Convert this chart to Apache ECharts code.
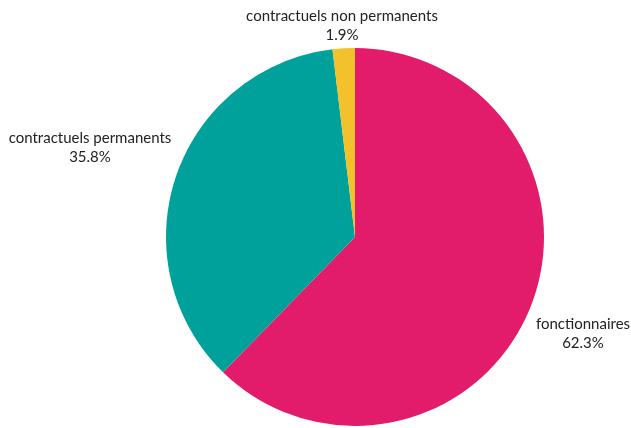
<!DOCTYPE html>
<html><head><meta charset="utf-8">
<script src="https://cdn.jsdelivr.net/npm/echarts@6/dist/echarts.min.js"></script>
<style>html,body{margin:0;padding:0;background:#fff}#c{width:631px;height:428px}</style>
</head><body><div id="c"></div>
<script>
const categories = ["fonctionnaires", "contractuels permanents", "contractuels non permanents"];
const values = [62.3, 35.8, 1.9];
const colors = ["#E21C6A", "#00A19A", "#F3C12B"];
// label block centres (layout only)
const labelCenters = [[583, 334], [90, 148], [342, 26]];

const chart = echarts.init(document.getElementById('c'));
chart.setOption({
  animation: false,
  series: [{
    type: 'pie',
    center: [355, 237],
    radius: 189,
    startAngle: 90,
    clockwise: true,
    data: categories.map((n, i) => ({name: n, value: values[i], itemStyle: {color: colors[i]}})),
    label: {
      show: true,
      position: 'outside',
      formatter: p => p.name + '\n' + p.value.toFixed(1) + '%',
      fontFamily: 'Lato',
      fontSize: 15,
      color: '#222',
      lineHeight: 19,
      align: 'center',
      overflow: 'none'
    },
    labelLine: {show: false, length: 8, length2: 0},
    labelLayout: p => ({
      x: labelCenters[p.dataIndex][0],
      y: labelCenters[p.dataIndex][1],
      align: 'center',
      verticalAlign: 'middle'
    }),
    itemStyle: {borderWidth: 0}
  }]
});
</script></body></html>
